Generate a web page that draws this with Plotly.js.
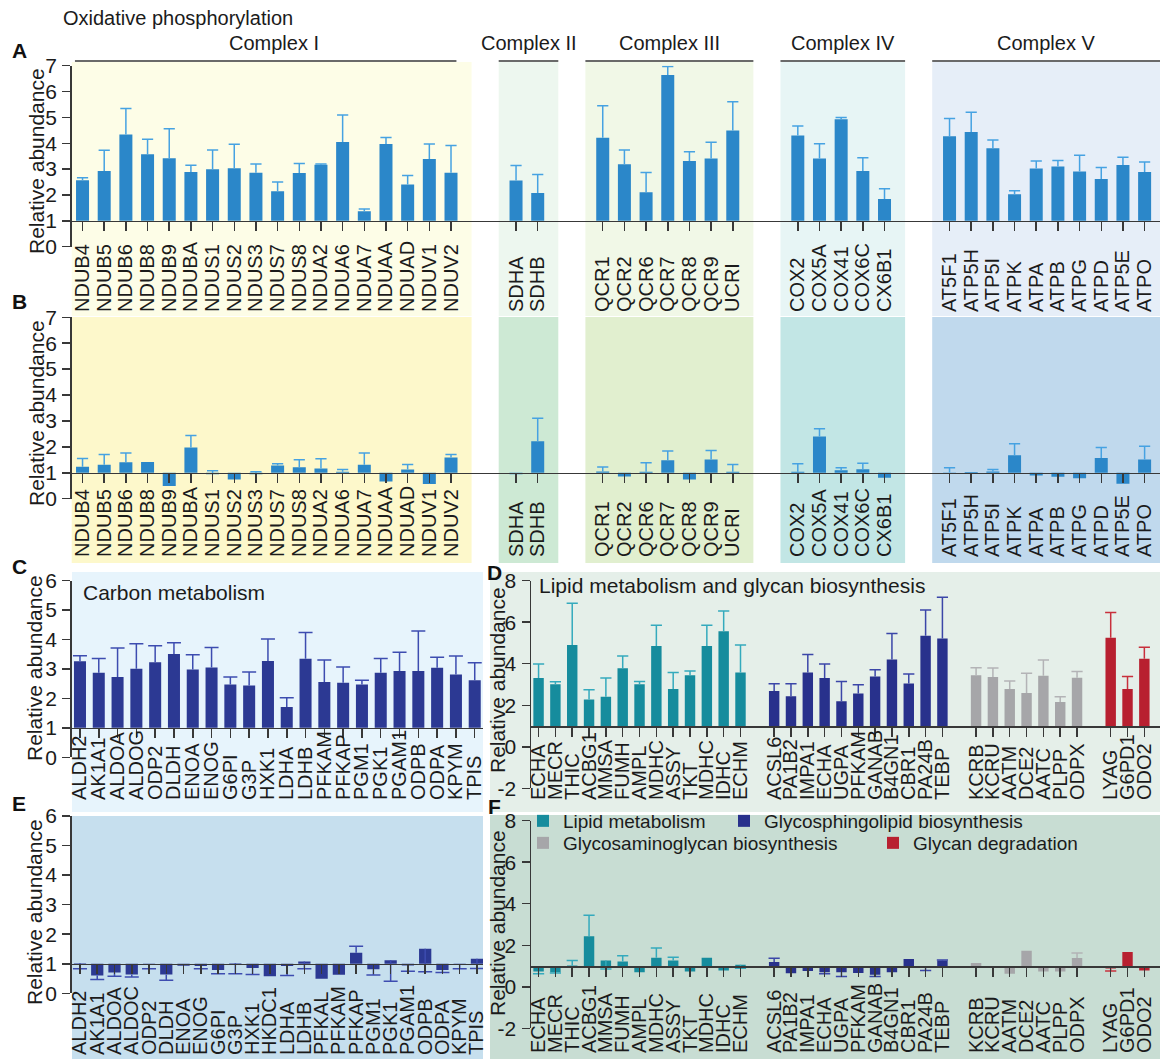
<!DOCTYPE html>
<html><head><meta charset="utf-8">
<script src="https://cdn.plot.ly/plotly-3.0.1.min.js"></script>
<style>html,body{margin:0;padding:0;background:#fff}#chart{width:1160px;height:1059px}</style>
</head><body><div id="chart"></div>
<script>
// ================= DATA =================
// Panels A & B : oxidative phosphorylation
const complexLabels = ['Complex I', 'Complex II', 'Complex III', 'Complex IV', 'Complex V'];
const complexI = ['NDUB4','NDUB5','NDUB6','NDUB8','NDUB9','NDUBA','NDUS1','NDUS2','NDUS3','NDUS7','NDUS8','NDUA2','NDUA6','NDUA7','NDUAA','NDUAD','NDUV1','NDUV2'];
const complexII = ['SDHA','SDHB'];
const complexIII = ['QCR1','QCR2','QCR6','QCR7','QCR8','QCR9','UCRI'];
const complexIV = ['COX2','COX5A','COX41','COX6C','CX6B1'];
const complexV = ['AT5F1','ATP5H','ATP5I','ATPK','ATPA','ATPB','ATPG','ATPD','ATP5E','ATPO'];

// bar value and end of its error bar (null = no error bar)
const oxphosA = [2.57,2.93,4.34,3.58,3.42,2.89,3.00,3.03,2.86,2.14,2.85,3.17,4.05,1.37,3.97,2.41,3.39,2.86,
                 2.56,2.08,
                 4.21,3.19,2.11,6.64,3.31,3.41,4.49,
                 4.30,3.41,4.93,2.93,1.84,
                 4.27,4.44,3.81,2.03,3.02,3.10,2.91,2.62,3.16,2.89];
const oxphosA_err = [2.67,3.73,5.34,4.16,4.56,3.15,3.74,3.96,3.20,2.50,3.22,3.20,5.09,1.46,4.22,2.75,3.97,3.91,
                 3.14,2.79,
                 5.45,3.74,2.87,6.97,3.67,4.04,5.61,
                 4.67,3.98,5.00,3.44,2.24,
                 4.96,5.20,4.13,2.16,3.31,3.33,3.54,3.06,3.46,3.28];
const oxphosB = [1.23,1.31,1.41,1.42,0.49,1.98,0.94,0.74,0.94,1.28,1.21,1.17,1.04,1.31,0.66,1.13,0.57,1.59,
                 0.94,2.22,
                 1.05,0.86,1.04,1.48,0.74,1.51,1.04,
                 1.04,2.40,1.10,1.14,0.81,
                 1.01,1.03,1.05,1.68,0.90,0.85,0.79,1.57,0.58,1.51];
const oxphosB_err = [1.55,1.71,1.76,null,null,2.44,1.08,null,1.04,1.35,1.50,1.54,1.13,1.76,null,1.32,null,1.71,
                 null,3.10,
                 1.22,null,1.39,1.84,null,1.86,1.32,
                 1.35,2.70,1.19,1.37,null,
                 1.19,null,1.13,2.12,null,null,null,1.98,null,2.02];

// Panel C : carbon metabolism
const carbonC_labels = ['ALDH2','AK1A1','ALDOA','ALDOG','ODP2','DLDH','ENOA','ENOG','G6PI','G3P','HXK1','LDHA','LDHB','PFKAM','PFKAP','PGM1','PGK1','PGAM1','ODPB','ODPA','KPYM','TPIS'];
const carbonC = [3.26,2.87,2.73,3.01,3.23,3.51,2.98,3.05,2.47,2.44,3.27,1.71,3.35,2.56,2.53,2.47,2.87,2.93,2.93,3.04,2.81,2.62];
const carbonC_err = [3.45,3.36,3.71,3.86,3.79,3.89,3.48,3.73,2.73,2.90,4.02,2.02,4.24,3.31,3.07,2.62,3.36,3.57,4.29,3.40,3.44,3.21];

// Panel E
const carbonE_labels = ['ALDH2','AK1A1','ALDOA','ALDOC','ODP2','DLDH','ENOA','ENOG','G6PI','G3P','HXK1','HKDC1','LDHA','LDHB','PFKAL','PFKAM','PFKAP','PGM1','PGK1','PGAM1','ODPB','ODPA','KPYM','TPIS'];
const carbonE = [1.02,0.60,0.70,0.64,0.96,0.64,0.93,0.92,0.79,1.02,0.86,0.58,0.92,1.08,0.49,0.63,1.37,0.81,1.12,0.94,1.51,0.79,0.97,1.17];
const carbonE_err = [0.83,0.47,0.58,0.55,0.83,0.44,null,0.83,0.66,0.66,0.64,null,0.60,0.83,null,null,1.59,0.62,0.41,0.75,0.73,0.70,0.83,0.84];

// Panels D & F : lipid metabolism and glycan biosynthesis
const seriesNames = ['Lipid metabolism','Glycosphingolipid biosynthesis','Glycosaminoglycan biosynthesis','Glycan degradation'];
const lipidLabels = ['ECHA','MECR','THIC','ACBG1','MMSA','FUMH','AMPL','MDHC','ASSY','TKT','MDHC','IDHC','ECHM'];
const glycosphingoLabels = ['ACSL6','PA1B2','IMPA1','ECHA','UGPA','PFKAM','GANAB','B4GN1','CBR1','PA24B','TEBP'];
const glycosaminoLabels = ['KCRB','KCRU','AATM','DCE2','AATC','PLPP','ODPX'];
const glycanDegLabels = ['LYAG','G6PD1','ODO2'];

const lipidD = [3.31,3.01,4.90,2.28,2.41,3.78,3.01,4.85,2.78,3.44,4.85,5.57,3.58,
                2.69,2.44,3.58,3.31,2.19,2.57,3.39,4.21,3.05,5.35,5.21,
                3.44,3.36,2.78,2.59,3.42,2.16,3.33,
                5.25,2.78,4.24];
const lipidD_err = [3.99,3.13,6.91,2.75,3.31,4.37,3.15,5.86,3.58,3.65,5.86,6.54,4.90,
                3.04,3.04,4.45,3.99,3.15,2.99,3.71,5.46,3.50,6.59,7.20,
                3.81,3.79,3.17,3.54,4.18,2.41,3.63,
                6.47,3.38,4.79];
const lipidF = [0.74,0.70,1.03,2.43,1.27,1.22,0.70,1.40,1.26,0.74,1.40,0.78,1.06,
                1.19,0.65,0.76,0.70,0.70,0.66,0.58,0.70,1.34,0.92,1.27,
                1.14,0.92,0.63,1.74,0.74,0.74,1.39,
                0.88,1.67,0.79];
const lipidF_err = [0.63,0.66,1.26,3.44,0.86,1.50,null,1.87,1.42,null,null,null,0.89,
                1.37,null,null,0.63,0.50,null,0.50,null,null,0.78,1.29,
                null,null,null,null,null,null,1.63,
                0.76,null,null];

const yTicksOx = [0,1,2,3,4,5,6,7];
const yTicksCarbon = [0,1,2,3,4,5,6];
const yTicksLipid = [-2,0,2,4,6,8];
const yTitle = 'Relative abundance';

// ================= LAYOUT HELPERS =================
const W = 1160, H = 1059;
const FONT = 'Arial, "Liberation Sans", Helvetica, sans-serif';
const INK = '#1b1b1b', AXC = '#383838';
const fx = p => p / W, fy = p => 1 - p / H;

function groupPositions(groups, gap) {
  const pos = []; let start = 0;
  groups.forEach(g => { g.forEach((_, i) => pos.push(start + i)); start += g.length + gap; });
  return pos;
}
// first / last label index of every group
function groupIndexRanges(groups) {
  const out = []; let start = 0;
  groups.forEach(g => { out.push([start, start + g.length - 1]); start += g.length; });
  return out;
}
const allIdx = n => Array.from({length: n}, (_, i) => i);

const traces = [], shapes = [], annotations = [];
const layout = {
  width: W, height: H, margin: {l: 0, r: 0, t: 0, b: 0},
  paper_bgcolor: '#ffffff', plot_bgcolor: 'rgba(0,0,0,0)',
  barmode: 'overlay', showlegend: true, hovermode: false,
  font: {family: FONT, color: INK, size: 20}
};
const textAnn = (t, x, y, opts = {}) => annotations.push(Object.assign({xref: 'paper', yref: 'paper', x: fx(x), y: fy(y), text: t,
  showarrow: false, xanchor: 'left', yanchor: 'middle', font: {size: 20, color: INK, family: FONT}}, opts));

function addPanel(k, g) {
  const xid = k === 1 ? 'x' : 'x' + k, yid = k === 1 ? 'y' : 'y' + k, lid = 'x' + (k + 6);
  const xKey = k === 1 ? 'xaxis' : 'xaxis' + k, yKey = k === 1 ? 'yaxis' : 'yaxis' + k, lKey = 'xaxis' + (k + 6);
  const ydom = [fy(g.yBot), fy(g.yTop)];
  const xdom = [fx(g.xLeft), Math.min(1, fx(g.xRight))];
  const basePos = ydom[0] + (ydom[1] - ydom[0]) * (1 - g.yr[0]) / (g.yr[1] - g.yr[0]);
  layout[yKey] = {
    domain: ydom, anchor: xid, range: g.yr, tickmode: 'array', tickvals: g.yticks, ticktext: g.yticks.map(String),
    showgrid: false, zeroline: false, showline: true, linecolor: AXC, linewidth: 1.5,
    ticks: 'outside', ticklen: 8, tickwidth: 1.5, tickcolor: AXC, ticklabelstandoff: 1,
    tickfont: {size: 21, color: INK, family: FONT}
  };
  layout[xKey] = {
    domain: xdom, anchor: 'free', position: basePos, range: g.xr,
    tickmode: 'array', tickvals: g.pos, showticklabels: false,
    ticks: 'outside', ticklen: 9, tickwidth: 1.5, tickcolor: AXC,
    showline: true, linecolor: AXC, linewidth: 1.5, showgrid: false, zeroline: false
  };
  layout[lKey] = {
    overlaying: xid, anchor: 'free', position: fy(g.labelBottom), side: 'top', range: g.xr,
    tickmode: 'array', tickvals: g.pos, ticktext: g.labels, tickangle: -90, ticks: '',
    showline: false, showgrid: false, zeroline: false, ticklabelstandoff: 0,
    tickfont: {size: 20, color: INK, family: FONT}
  };
  // y-axis title placed exactly as in the reference
  textAnn(yTitle, g.titleX, g.titleY, {xanchor: 'center', textangle: -90, font: {size: 21, color: INK, family: FONT}});
  traces.push({type: 'scatter', mode: 'markers', x: [g.pos[0]], y: [null], xaxis: lid, yaxis: yid,
               showlegend: false, hoverinfo: 'skip', marker: {opacity: 0}});
  g.series.forEach(s => {
    const xs = s.idx.map(i => g.pos[i]);
    const v = s.idx.map(i => g.values[i]);
    const w = s.idx.map(i => g.whisk[i]);
    const bar = {
      type: 'bar', x: xs, y: v.map(a => a - 1), base: 1, width: g.barWidth,
      marker: {color: s.color, line: {width: 0}}, xaxis: xid, yaxis: yid, hoverinfo: 'skip',
      error_y: {type: 'data', symmetric: false, width: 0, thickness: 1.5, color: s.errColor,
                array: v.map((a, i) => w[i] == null ? 0 : Math.max(w[i] - a, 0)),
                arrayminus: v.map((a, i) => w[i] == null ? 0 : Math.max(a - w[i], 0))},
      showlegend: !!s.legend
    };
    if (s.legend) { bar.name = s.name; bar.legend = s.legend; if (s.legendwidth) bar.legendwidth = s.legendwidth; }
    traces.push(bar);
    const cx = [], cy = [];
    w.forEach((e, i) => { if (e != null) { cx.push(xs[i]); cy.push(e); } });
    traces.push({type: 'scatter', mode: 'markers', x: cx, y: cy, xaxis: xid, yaxis: yid, showlegend: false,
                 hoverinfo: 'skip', marker: {symbol: 'line-ew', size: g.capSize, color: s.errColor,
                 line: {width: 1.5, color: s.errColor}}});
  });
}

// ---------- Panels A & B ----------
const oxGroups = [complexI, complexII, complexIII, complexIV, complexV];
const oxPos = groupPositions(oxGroups, 2);
const oxLabels = [].concat(...oxGroups);
const oxRanges = groupIndexRanges(oxGroups);
const oxBlue = '#2b87c9', oxErr = '#46a2e2';

addPanel(1, {xLeft: 71.7, xRight: 1160, yTop: 65.7, yBot: 246.7, yr: [0, 7], yticks: yTicksOx,
  xr: [-0.5, 49.71], labelBottom: 312, pos: oxPos, labels: oxLabels, values: oxphosA, whisk: oxphosA_err,
  titleX: 36, titleY: 161,
  barWidth: 0.6, capSize: 8, series: [{idx: allIdx(oxLabels.length), color: oxBlue, errColor: oxErr}]});
addPanel(2, {xLeft: 71.7, xRight: 1160, yTop: 317.3, yBot: 498.7, yr: [0, 7], yticks: yTicksOx,
  xr: [-0.5, 49.71], labelBottom: 557, pos: oxPos, labels: oxLabels, values: oxphosB, whisk: oxphosB_err,
  titleX: 36, titleY: 413,
  barWidth: 0.6, capSize: 8, series: [{idx: allIdx(oxLabels.length), color: oxBlue, errColor: oxErr}]});

const bandA = ['#fdfde7', '#edf7ef', '#f1f8e7', '#e7f5f5', '#e6eef8'];
const bandB = ['#fdf8cb', '#cde9d4', '#e1efcf', '#c2e6e5', '#c0d9ed'];
oxRanges.forEach((r, j) => {
  const x0 = oxPos[r[0]] - 0.8, x1 = oxPos[r[1]] + 0.95;
  shapes.push({type: 'rect', xref: 'x', yref: 'paper', x0, x1, y0: fy(316), y1: fy(62), fillcolor: bandA[j], line: {width: 0}, layer: 'below'});
  shapes.push({type: 'rect', xref: 'x2', yref: 'paper', x0, x1, y0: fy(563), y1: fy(317), fillcolor: bandB[j], line: {width: 0}, layer: 'below'});
  shapes.push({type: 'line', xref: 'x', yref: 'paper', x0: Math.max(x0, -0.35), x1: j === 0 ? x1 - 0.7 : x1, y0: fy(61), y1: fy(61), line: {color: AXC, width: 1.5}});
  annotations.push({xref: 'x', yref: 'paper', x: (Math.max(x0, -0.5) + Math.min(x1, 49.7)) / 2 + (j === 0 ? 0.1 : 0), y: fy(43), text: complexLabels[j],
    showarrow: false, xanchor: 'center', yanchor: 'middle', font: {size: 20, color: INK, family: FONT}});
});

// ---------- Panels C & E ----------
const navy = '#2c3993', navyErr = '#3d4cb0';
addPanel(3, {xLeft: 71.7, xRight: 483, yTop: 580.7, yBot: 757.3, yr: [0, 6], yticks: yTicksCarbon,
  xr: [-0.44, 21.44], labelBottom: 800, pos: allIdx(carbonC_labels.length), labels: carbonC_labels,
  values: carbonC, whisk: carbonC_err, barWidth: 0.64, capSize: 10, titleX: 34, titleY: 668,
  series: [{idx: allIdx(carbonC_labels.length), color: navy, errColor: navyErr}]});
addPanel(5, {xLeft: 71.7, xRight: 483, yTop: 816, yBot: 993.3, yr: [0, 6], yticks: yTicksCarbon,
  xr: [-0.48, 23.35], labelBottom: 1055, pos: allIdx(carbonE_labels.length), labels: carbonE_labels,
  values: carbonE, whisk: carbonE_err, barWidth: 0.71, capSize: 10, titleX: 34, titleY: 912,
  series: [{idx: allIdx(carbonE_labels.length), color: navy, errColor: navyErr}]});

// ---------- Panels D & F ----------
const lgGroups = [lipidLabels, glycosphingoLabels, glycosaminoLabels, glycanDegLabels];
const lgPos = groupPositions(lgGroups, 1);
const lgLabels = [].concat(...lgGroups);
const lgRanges = groupIndexRanges(lgGroups);
const lgColors = ['#168c9d', '#28318c', '#a6a6a9', '#b82030'];
const lgErr = ['#34aabd', '#3b46a8', '#b3b3b6', '#c8303c'];
function lgSeries(withLegend) {
  return lgRanges.map((r, j) => ({
    idx: allIdx(r[1] - r[0] + 1).map(i => i + r[0]),
    color: lgColors[j], errColor: lgErr[j], name: seriesNames[j],
    legend: withLegend ? (j < 2 ? 'legend' : 'legend2') : null,
    legendwidth: withLegend ? (j === 0 ? 156 : (j === 2 ? 305 : null)) : null
  }));
}
addPanel(4, {xLeft: 531, xRight: 1160, yTop: 580.7, yBot: 788.3, yr: [-2, 8], yticks: yTicksLipid,
  xr: [-0.45, 36.93], labelBottom: 800, pos: lgPos, labels: lgLabels, values: lipidD, whisk: lipidD_err,
  titleX: 497, titleY: 680, barWidth: 0.62, capSize: 8, series: lgSeries(false)});
addPanel(6, {xLeft: 531, xRight: 1160, yTop: 820.7, yBot: 1028.3, yr: [-2, 8], yticks: yTicksLipid,
  xr: [-0.45, 36.93], labelBottom: 1053, pos: lgPos, labels: lgLabels, values: lipidF, whisk: lipidF_err,
  titleX: 497, titleY: 923, barWidth: 0.62, capSize: 8, series: lgSeries(true)});

// backgrounds of C, D, E, F
[[72, 483, 572, 812, '#e7f4fc'], [72, 483, 816, 1059, '#c6dfee'],
 [490, 1160, 572, 812, '#e5efe9'], [490, 1160, 815, 1059, '#c8ddd3']].forEach(b => {
  shapes.push({type: 'rect', xref: 'paper', yref: 'paper', x0: fx(b[0]), x1: fx(b[1]), y0: fy(b[3]), y1: fy(b[2]),
               fillcolor: b[4], line: {width: 0}, layer: 'below'});
});

// text annotations
textAnn('Oxidative phosphorylation', 61, 18);
textAnn('Carbon metabolism', 81, 592, {font: {size: 21, color: INK, family: FONT}});
textAnn('Lipid metabolism and glycan biosynthesis', 537, 585, {font: {size: 21, color: INK, family: FONT}});
[['A', 19, 51], ['B', 19, 301], ['C', 19, 566], ['D', 494, 572], ['E', 19, 803], ['F', 494, 806]].forEach(l =>
  textAnn('<b>' + l[0] + '</b>', l[1], l[2], {xanchor: 'center', font: {size: 21, color: '#111', family: FONT}}));

layout.shapes = shapes;
layout.annotations = annotations;
layout.legend = {x: fx(523), y: fy(802), xanchor: 'left', yanchor: 'top', orientation: 'h',
  bgcolor: 'rgba(0,0,0,0)', borderwidth: 0, font: {size: 19, color: INK, family: FONT}, itemwidth: 30, tracegroupgap: 0};
layout.legend2 = {x: fx(523), y: fy(824), xanchor: 'left', yanchor: 'top', orientation: 'h',
  bgcolor: 'rgba(0,0,0,0)', borderwidth: 0, font: {size: 19, color: INK, family: FONT}, itemwidth: 30, tracegroupgap: 0};

Plotly.newPlot('chart', traces, layout, {displayModeBar: false, staticPlot: true});
</script></body></html>
